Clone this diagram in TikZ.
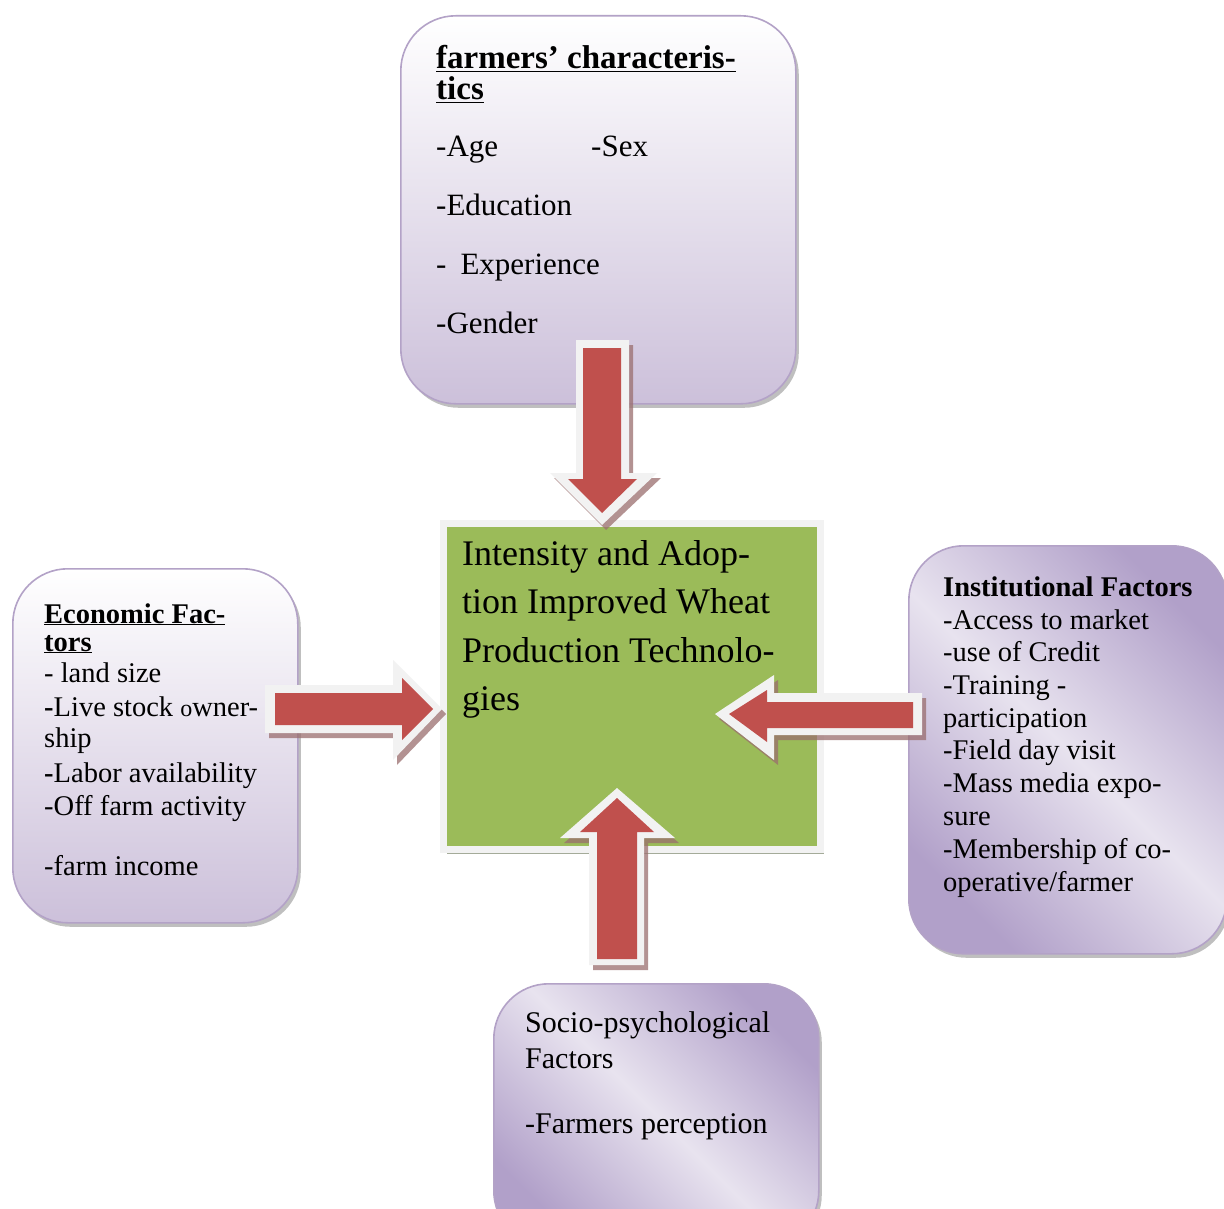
\documentclass[tikz,border=0pt]{standalone}
\usepackage{fontspec}
\setmainfont{Liberation Serif}
\usetikzlibrary{shadows}
\definecolor{arrred}{HTML}{C0504D}
\definecolor{arrrim}{HTML}{F2F2F2}
\definecolor{arrshd}{HTML}{9A6E6E}
\definecolor{corefill}{HTML}{9BBB59}
\definecolor{coreshd}{HTML}{8E9680}
\definecolor{boxline}{HTML}{B3A2C7}
\definecolor{lavlow}{HTML}{CCC0DA}
\definecolor{lavdark}{HTML}{B1A0C9}
\definecolor{lavlight}{HTML}{E8E3EF}
\begin{document}
\begin{tikzpicture}[x=1pt,y=-1pt,
  boxbase/.style={rectangle, draw=boxline, line width=1.6pt, rounded corners=55pt,
    anchor=north west, inner sep=0pt,
    drop shadow={shadow xshift=3pt, shadow yshift=-4pt, fill=black!45, opacity=0.55}},
  vgrad/.style={boxbase, top color=white, bottom color=lavlow},
  dgrad/.style={boxbase, top color=lavdark, bottom color=lavdark, middle color=lavlight, shading angle=-45},
  lt/.style={anchor=base west, inner sep=0pt},
  fTop/.style={lt, font=\fontsize{31}{36}\selectfont},
  fTopB/.style={lt, font=\fontsize{33}{36}\selectfont\bfseries},
  fSide/.style={lt, font=\fontsize{28.5}{33}\selectfont},
  fBot/.style={lt, font=\fontsize{30}{36}\selectfont},
  fCore/.style={lt, font=\fontsize{36}{48}\selectfont},
  rim/.style={fill=arrrim},
  red/.style={fill=arrred},
  ashd/.style={fill=arrshd, opacity=0.75}
]
\useasboundingbox (0,0) rectangle (1224,1209);
\clip (0,0) rectangle (1224,1209);
\fill[white] (0,0) rectangle (1224,1209);

% boxes
\node[vgrad, minimum width=395pt, minimum height=388pt] (farm) at (400,15) {};
\node[vgrad, minimum width=285pt, minimum height=354pt] (econ) at (12,568) {};
\node[dgrad, minimum width=318pt, minimum height=408pt] (inst) at (908,545) {};
\node[dgrad, minimum width=325pt, minimum height=262pt] (socio) at (493,983) {};

% centre box
\node[rectangle, anchor=north west, inner sep=0pt, fill=corefill, draw=arrrim, line width=7pt,
  minimum width=377pt, minimum height=326pt,
  drop shadow={shadow xshift=4pt, shadow yshift=-5pt, fill=coreshd, opacity=0.8}]
  (core) at (439.5,519.5) {};

% texts: farmers' characteristics
\node[fTopB] (farm1) at (436,69) {\underline{farmers’ characteris-}};
\node[fTopB] (farm2) at (436,100) {\underline{tics}};
\node[fTop] (farm3) at (436,157) {-Age};
\node[fTop] (farm4) at (591,157) {-Sex};
\node[fTop] (farm5) at (436,216) {-Education};
\node[fTop] (farm6) at (436,274) {-\hspace{14pt}Experience};
\node[fTop] (farm7) at (436,333) {-Gender};

% economic factors
\node[fSide, font=\fontsize{28.5}{33}\selectfont\bfseries] (econ1) at (44,623) {\underline{Economic Fac-}};
\node[fSide, font=\fontsize{28.5}{33}\selectfont\bfseries] (econ2) at (44,651) {\underline{tors}};
\node[fSide] (econ3) at (44,682) {- land size};
\node[fSide] (econ4) at (44,716) {\textbf{-}Live stock {\fontsize{24}{30}\selectfont o}wner-};
\node[fSide] (econ5) at (44,747) {ship};
\node[fSide] (econ6) at (44,782) {\textbf{-}Labor availability};
\node[fSide] (econ7) at (44,815) {-Off farm activity};
\node[fSide] (econ8) at (44,875) {-farm income};

% institutional factors
\node[fSide, font=\fontsize{28.5}{33}\selectfont\bfseries] (inst1) at (943,596) {Institutional Factors};
\node[fSide] (inst2) at (943,629) {-Access to market};
\node[fSide] (inst3) at (943,661) {-use of Credit};
\node[fSide] (inst4) at (943,694) {-Training -};
\node[fSide] (inst5) at (943,727) {participation};
\node[fSide] (inst6) at (943,759) {-Field day visit};
\node[fSide] (inst7) at (943,792) {-Mass media expo-};
\node[fSide] (inst8) at (943,825) {sure};
\node[fSide] (inst9) at (943,858) {-Membership of co-};
\node[fSide] (inst10) at (943,891) {operative/farmer};

% socio-psychological
\node[fBot] (socio1) at (525,1032) {Socio-psychological};
\node[fBot] (socio2) at (525,1068) {Factors};
\node[fBot] (socio3) at (525,1133) {-Farmers perception};

% core text
\node[fCore] (core1) at (462,565) {Intensity and Adop-};
\node[fCore] (core2) at (462,613) {tion Improved Wheat};
\node[fCore] (core3) at (462,662) {Production Technolo-};
\node[fCore] (core4) at (462,710) {gies};

% arrow shadows
\begin{scope}[shift={(4,5)}]
\fill[ashd] (576,340) -- (629,340) -- (629,473) -- (657,473) -- (602,525) -- (550,473) -- (576,473) -- cycle;
\fill[ashd] (265,685) -- (393,685) -- (393,660) -- (442,709) -- (393,760) -- (393,733) -- (265,733) -- cycle;
\fill[ashd] (922,693) -- (774,693) -- (774,675) -- (715,714) -- (774,760) -- (774,735) -- (922,735) -- cycle;
\fill[ashd] (589,965) -- (589,838) -- (560,838) -- (617,788) -- (675,838) -- (644,838) -- (644,965) -- cycle;
\end{scope}

% top arrow (farm -> core)
\fill[rim] (576,340) -- (629,340) -- (629,473) -- (657,473) -- (602,525) -- (550,473) -- (576,473) -- cycle;
\fill[red] (583,348) -- (621,348) -- (621,479) -- (637,479) -- (602,513) -- (568,479) -- (583,479) -- cycle;
% left arrow (econ -> core)
\fill[rim] (265,685) -- (393,685) -- (393,660) -- (442,709) -- (393,760) -- (393,733) -- (265,733) -- cycle;
\fill[red] (275,693) -- (402,693) -- (402,678) -- (433,709) -- (402,740) -- (402,725) -- (275,725) -- cycle;
% right arrow (inst -> core)
\fill[rim] (922,693) -- (774,693) -- (774,675) -- (715,714) -- (774,760) -- (774,735) -- (922,735) -- cycle;
\fill[red] (913,702) -- (767,702) -- (767,690) -- (729,714) -- (767,742) -- (767,728) -- (913,728) -- cycle;
% bottom arrow (socio -> core)
\fill[rim] (589,965) -- (589,838) -- (560,838) -- (617,788) -- (675,838) -- (644,838) -- (644,965) -- cycle;
\fill[red] (597,959) -- (597,832) -- (580,832) -- (617,798) -- (654,832) -- (637,832) -- (637,959) -- cycle;
\end{tikzpicture}
\end{document}
